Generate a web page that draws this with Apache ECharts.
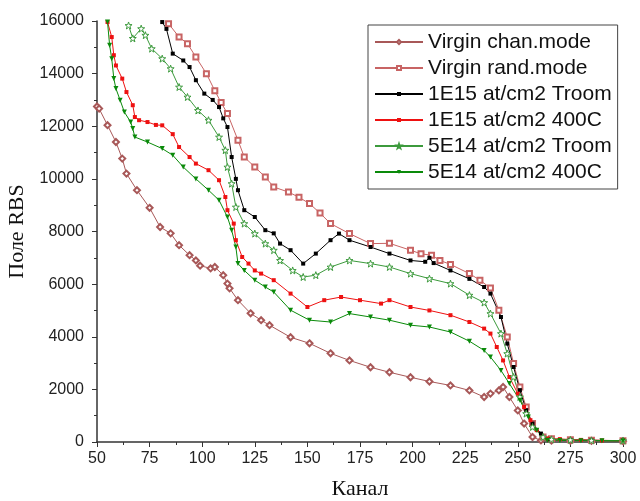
<!DOCTYPE html>
<html>
<head>
<meta charset="utf-8">
<script src="https://cdn.jsdelivr.net/npm/echarts@6/dist/echarts.min.js"></script>
<style>
  html, body { margin: 0; padding: 0; background: #fff; }
  #chart { width: 640px; height: 501px; }
</style>
</head>
<body>
<div id="chart"></div>
<script>
// channel / yield pairs
var vcX = [50, 51, 55, 59, 62, 64, 69, 75, 80, 85, 89, 94, 97, 99, 104, 106, 110, 112, 113, 117, 123, 128, 132, 142, 151, 161, 170, 180, 189, 199, 208, 218, 227, 234, 237, 241, 243, 246, 250, 253, 257, 261, 266, 275, 285, 300];
var vcY = [12750, 12670, 12040, 11400, 10770, 10200, 9570, 8900, 8170, 7930, 7480, 7100, 6900, 6700, 6600, 6650, 6340, 6020, 5840, 5390, 4890, 4630, 4440, 3980, 3750, 3370, 3100, 2840, 2650, 2460, 2300, 2150, 1960, 1710, 1840, 1960, 2090, 1710, 1200, 700, 190, 60, 50, 45, 40, 30];

var vrX = [84, 89, 93, 97, 102, 106, 109, 112, 117, 120, 125, 130, 134, 141, 146, 151, 156, 161, 170, 180, 189, 199, 204, 209, 213, 218, 227, 232, 237, 241, 245, 248, 251, 254, 257, 262, 266, 275, 285, 300];
var vrY = [15900, 15390, 15140, 14630, 14000, 13350, 12900, 12480, 11470, 10830, 10450, 10070, 9690, 9500, 9300, 9060, 8700, 8300, 7920, 7540, 7550, 7290, 7150, 7100, 6900, 6750, 6400, 6150, 5850, 5010, 3990, 2980, 2090, 1330, 700, 190, 120, 90, 70, 50];

var bkX = [81, 83, 86, 91, 94, 97, 101, 105, 108, 110, 112, 114, 116, 117, 120, 125, 130, 134, 137, 142, 148, 154, 161, 165, 170, 180, 189, 199, 206, 208, 210, 218, 227, 234, 237, 242, 245, 248, 251, 254, 257, 261, 265, 275, 285, 300];
var bkY = [15960, 15700, 14760, 14500, 14250, 13750, 13240, 13000, 12730, 12300, 11970, 10830, 10000, 9570, 8810, 8550, 8050, 7930, 7540, 7290, 6780, 7160, 7670, 7920, 7670, 7410, 7160, 6900, 6850, 7000, 6800, 6520, 6200, 5890, 5640, 4750, 3740, 2850, 1970, 1210, 700, 320, 100, 80, 60, 50];

var rdX = [55, 57, 58, 59, 62, 64, 67, 68, 70, 74, 78, 81, 86, 89, 94, 97, 103, 108, 111, 112, 115, 116, 119, 122, 125, 128, 134, 142, 150, 158, 166, 175, 185, 189, 199, 208, 218, 227, 234, 237, 240, 243, 246, 250, 253, 256, 259, 264, 270, 280, 290, 300];
var rdY = [15960, 15390, 14700, 14310, 13810, 13300, 12800, 12350, 12230, 12160, 12050, 12035, 11700, 11210, 10830, 10580, 10330, 9950, 9310, 8810, 8300, 7670, 7030, 6780, 6520, 6400, 6150, 5640, 5130, 5390, 5510, 5390, 5260, 5390, 5130, 5000, 4820, 4560, 4310, 4120, 3610, 3100, 2470, 1840, 1330, 830, 450, 140, 110, 80, 60, 50];

var stX = [65, 67, 71, 73, 76, 81, 85, 89, 93, 98, 103, 108, 111, 112, 114, 116, 120, 125, 130, 134, 137, 143, 148, 154, 161, 170, 180, 189, 199, 208, 218, 227, 234, 237, 242, 245, 248, 251, 254, 257, 262, 266, 275, 285, 300];
var stY = [15830, 15340, 15710, 15460, 14950, 14570, 14190, 13490, 13110, 12600, 12230, 11590, 11090, 10450, 9820, 8930, 8300, 7920, 7540, 7290, 6900, 6520, 6270, 6340, 6650, 6900, 6780, 6650, 6400, 6210, 6020, 5580, 5300, 4880, 4120, 3360, 2470, 1710, 1080, 570, 190, 100, 80, 60, 50];

var dgX = [55, 56, 57, 58, 59, 61, 63, 66, 67, 68, 74, 81, 86, 91, 97, 103, 108, 112, 114, 116, 117, 120, 125, 130, 134, 142, 151, 161, 170, 180, 189, 199, 208, 218, 227, 234, 237, 242, 246, 251, 255, 259, 264, 270, 280, 290, 300];
var dgY = [15960, 15080, 14570, 13810, 13430, 12990, 12540, 12160, 11910, 11590, 11400, 11150, 10900, 10450, 10000, 9570, 9190, 8550, 8050, 7410, 6780, 6520, 6150, 5890, 5700, 5010, 4630, 4560, 4880, 4750, 4630, 4440, 4370, 4180, 3830, 3480, 3230, 2720, 2220, 1590, 950, 450, 70, 60, 50, 45, 40];

var names = ['Virgin chan.mode', 'Virgin rand.mode', '1E15 at/cm2 Troom', '1E15 at/cm2 400C', '5E14 at/cm2 Troom', '5E14 at/cm2 400C'];

function pairs(xs, ys) {
  return xs.map(function (x, i) { return [x, ys[i]]; });
}

var star = 'path://M0,-10 L2.35,-3.24 L9.51,-3.09 L3.8,1.24 L5.88,8.09 L0,4 L-5.88,8.09 L-3.8,1.24 L-9.51,-3.09 L-2.35,-3.24 Z';

function line(name, data, color, symbol, size, extra) {
  var s = {
    name: name,
    type: 'line',
    data: data,
    symbol: symbol,
    symbolSize: size,
    lineStyle: { color: color, width: 1 },
    itemStyle: { color: color },
    animation: false
  };
  for (var k in extra) s[k] = extra[k];
  return s;
}

var chart = echarts.init(document.getElementById('chart'));

chart.setOption({
  backgroundColor: '#fff',
  grid: { left: 97, right: 17, top: 21, bottom: 59, outerBoundsMode: 'none' },
  legend: {
    left: 368, top: 25,
    orient: 'vertical',
    padding: [4, 6, 4, 6],
    itemWidth: 48, itemHeight: 5, itemGap: 0,
    borderColor: '#444', borderWidth: 1,
    textStyle: { fontFamily: 'Liberation Sans, Arial', fontSize: 21, color: '#111', lineHeight: 26 },
    data: names
  },
  xAxis: {
    type: 'value', min: 50, max: 300, interval: 25,
    name: 'Канал', nameLocation: 'middle', nameGap: 36,
    nameTextStyle: { fontFamily: 'Liberation Serif, Times New Roman', fontSize: 22, color: '#111' },
    axisLine: { lineStyle: { color: '#333', width: 1.5 } },
    axisTick: { length: 5, lineStyle: { color: '#333' } },
    minorTick: { show: true, splitNumber: 2, length: 3, lineStyle: { color: '#333' } },
    splitLine: { show: false },
    axisLabel: { fontFamily: 'Liberation Sans, Arial', fontSize: 16, color: '#222', margin: 9 }
  },
  yAxis: {
    type: 'value', min: 0, max: 16000, interval: 2000,
    name: 'Поле RBS', nameLocation: 'middle', nameGap: 56,
    nameTextStyle: { fontFamily: 'Liberation Serif, Times New Roman', fontSize: 22, color: '#111' },
    axisLine: { show: true, lineStyle: { color: '#333', width: 1.5 } },
    axisTick: { show: true, length: 5, lineStyle: { color: '#333' } },
    minorTick: { show: true, splitNumber: 2, length: 3, lineStyle: { color: '#333' } },
    splitLine: { show: false },
    axisLabel: {
      fontFamily: 'Liberation Sans, Arial', fontSize: 16, color: '#222', margin: 13,
      formatter: function (v) { return String(v); }
    }
  },
  series: [
    line(names[0], pairs(vcX, vcY), '#a85858', 'emptyDiamond', 6, {}),
    line(names[1], pairs(vrX, vrY), '#c86464', 'emptyRect', 5, {}),
    line(names[2], pairs(bkX, bkY), '#000000', 'rect', 4, {}),
    line(names[3], pairs(rdX, rdY), '#ee1111', 'rect', 4, {}),
    line(names[4], pairs(stX, stY), '#3c9a3c', star, 7, {
      itemStyle: { color: '#fff', borderColor: '#3c9a3c', borderWidth: 1 }
    }),
    line(names[5], pairs(dgX, dgY), '#0a8a0a', 'triangle', 5, { symbolRotate: 180 })
  ]
});
</script>
</body>
</html>
